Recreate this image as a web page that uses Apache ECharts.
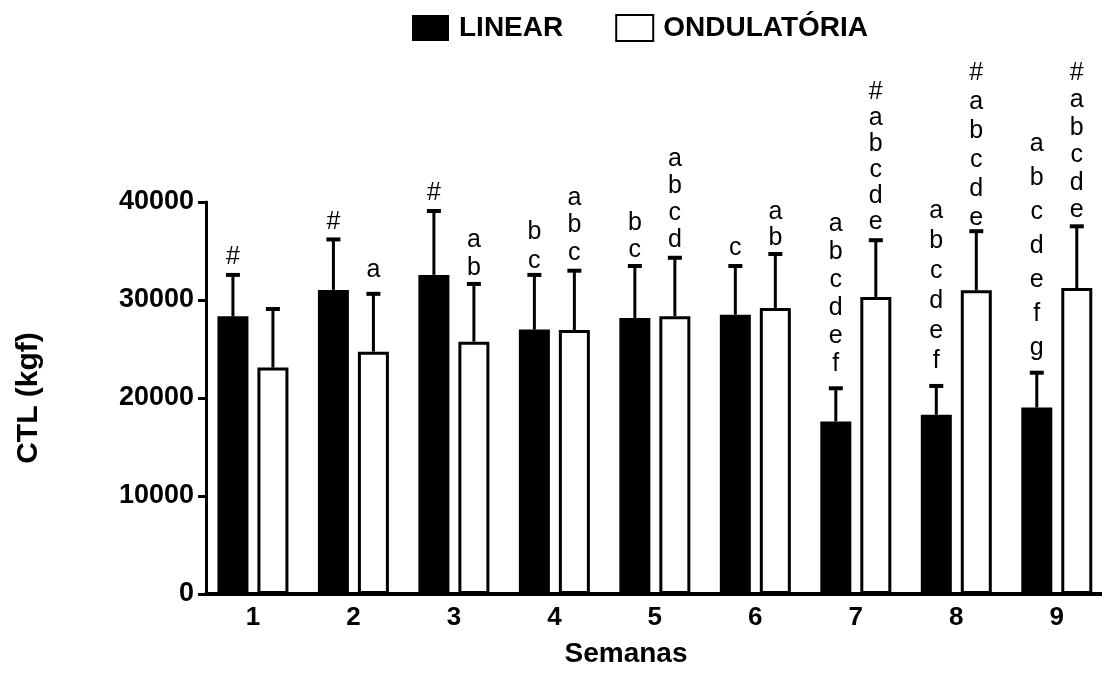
<!DOCTYPE html>
<html>
<head>
<meta charset="utf-8">
<title>CTL por semana</title>
<script src="https://cdn.jsdelivr.net/npm/echarts@6/dist/echarts.min.js"></script>
<style>
  html, body { margin: 0; padding: 0; background: #fff; }
  #chart { width: 1102px; height: 673px; }
</style>
</head>
<body>
<div id="chart"></div>
<script>
// values (kgf)
const weeks = [1, 2, 3, 4, 5, 6, 7, 8, 9];
const linearMean = [28330, 31030, 32560, 26980, 28160, 28500, 17610, 18290, 19030];
const linearSD   = [4230, 5150, 6520, 5580, 5310, 4970, 3380, 2940, 3550];
const ondMean    = [23100, 24730, 25750, 26930, 28350, 29190, 30310, 30990, 31220];
const ondSD      = [5980, 5900, 5890, 6060, 5960, 5500, 5790, 6030, 6300];
const linearMarks = ['#', '#', '#', 'b\nc', 'b\nc', 'c',
  'a\nb\nc\nd\ne\nf', 'a\nb\nc\nd\ne\nf', 'a\nb\nc\nd\ne\nf\ng'];
const ondMarks = ['', 'a', 'a\nb', 'a\nb\nc', 'a\nb\nc\nd', 'a\nb',
  '#\na\nb\nc\nd\ne', '#\na\nb\nc\nd\ne', '#\na\nb\nc\nd\ne'];

// spacing of the letter stacks (they are not even in the original)
const linearLineH = [26, 26, 26, 29, 27, 26, 28, 30, 34];
const linearGap   = [18, 17, 18, 14, 16, 18, 24, 25, 25];
const ondLineH    = [26, 26, 28, 27.5, 27, 26, 26, 29, 27.5];
const ondGap      = [16, 24, 16, 18, 18, 16, 18, 13, 16];

const FONT = '"Liberation Sans", Arial, Helvetica, sans-serif';
const SHIFT = 20;

var chart = echarts.init(document.getElementById('chart'));

function errSeries(means, sds, marks, shift, lineH, gap) {
  return {
    type: 'custom',
    z: 5,
    silent: true,
    data: weeks.map(function (w, i) { return [w, means[i], means[i] + sds[i]]; }),
    renderItem: function (params, api) {
      var i = params.dataIndex;
      var base = api.coord([api.value(0), api.value(1)]);
      var top = api.coord([api.value(0), api.value(2)]);
      var x = base[0] + shift;
      var kids = [
        { type: 'line', shape: { x1: x, y1: base[1], x2: x, y2: top[1] },
          style: { stroke: '#000', lineWidth: 3 } },
        { type: 'line', shape: { x1: x - 7, y1: top[1], x2: x + 7, y2: top[1] },
          style: { stroke: '#000', lineWidth: 4 } }
      ];
      if (marks[i]) {
        kids.push({
          type: 'text', x: x, y: top[1] - gap[i] + lineH[i] / 2,
          style: { text: marks[i], fill: '#000', fontSize: 25, fontFamily: FONT,
            align: 'center', verticalAlign: 'bottom', lineHeight: lineH[i] }
        });
      }
      return { type: 'group', children: kids };
    }
  };
}

var option = {
  animation: false,
  backgroundColor: '#fff',
  legend: {
    data: [{ name: 'LINEAR', icon: 'rect' }, { name: 'ONDULATÓRIA', icon: 'rect' }],
    selectedMode: false,
    left: 407, top: 9,
    itemWidth: 37, itemHeight: 26, itemGap: 52,
    textStyle: { fontSize: 28, fontWeight: 'bold', fontFamily: FONT, color: '#000', padding: [0, 0, 0, 5] }
  },
  grid: { left: 206, right: 0, top: 202, bottom: 77 },
  xAxis: {
    type: 'value',
    min: 0.533, max: 9.45,
    axisLine: { show: true, onZero: false, lineStyle: { color: '#000', width: 4 } },
    axisTick: { show: false },
    splitLine: { show: false },
    axisLabel: { customValues: weeks, fontSize: 26, fontWeight: 'bold', fontFamily: FONT, color: '#000', margin: 11 },
    name: 'Semanas', nameLocation: 'middle', nameGap: 46,
    nameTextStyle: { fontSize: 28, fontWeight: 'bold', fontFamily: FONT, color: '#000', padding: [0, 56, 0, 0] }
  },
  yAxis: {
    type: 'value',
    min: 0, max: 40000, interval: 10000,
    axisLine: { show: true, lineStyle: { color: '#000', width: 3 } },
    axisTick: { show: true, length: 8, lineStyle: { color: '#000', width: 3 } },
    splitLine: { show: false },
    axisLabel: { formatter: function (v) { return String(v); },
      fontSize: 27, fontWeight: 'bold', fontFamily: FONT, color: '#000', margin: 12 },
    name: 'CTL (kgf)', nameLocation: 'middle', nameGap: 162, nameRotate: 90,
    nameTextStyle: { fontSize: 30, fontWeight: 'bold', fontFamily: FONT, color: '#000' }
  },
  series: [
    {
      type: 'bar', name: 'LINEAR',
      data: weeks.map(function (w, i) { return [w, linearMean[i]]; }),
      barWidth: 31, barGap: '29%',
      itemStyle: { color: '#000' }
    },
    {
      type: 'bar', name: 'ONDULATÓRIA',
      data: weeks.map(function (w, i) { return [w, ondMean[i]]; }),
      barWidth: 31,
      itemStyle: { color: '#fff', borderColor: '#000', borderWidth: 3 }
    },
    errSeries(linearMean, linearSD, linearMarks, -SHIFT, linearLineH, linearGap),
    errSeries(ondMean, ondSD, ondMarks, SHIFT, ondLineH, ondGap)
  ]
};

chart.setOption(option);
</script>
</body>
</html>
